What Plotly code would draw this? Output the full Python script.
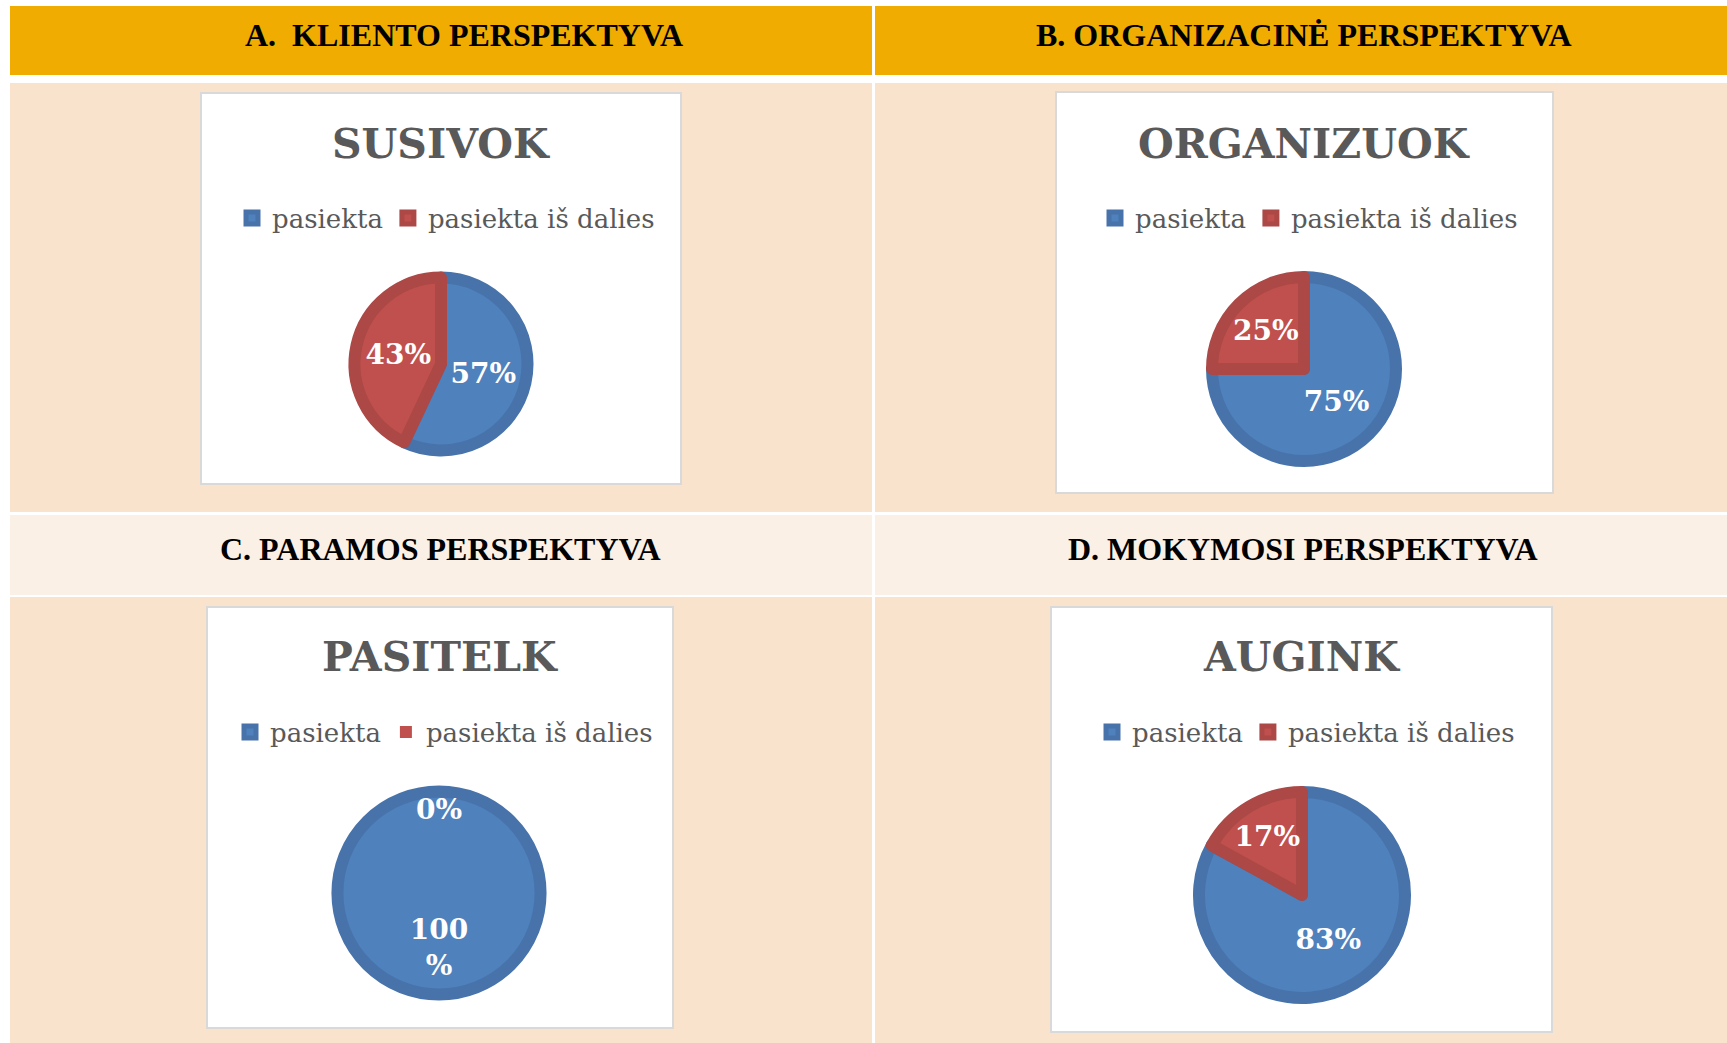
import plotly.graph_objects as go

W, H = 1727, 1043

# ---------------- data ----------------
labels = ["pasiekta", "pasiekta iš dalies"]
section_headers = ["A.  KLIENTO PERSPEKTYVA", "B. ORGANIZACINĖ PERSPEKTYVA",
                   "C. PARAMOS PERSPEKTYVA", "D. MOKYMOSI PERSPEKTYVA"]
chart_titles = ["SUSIVOK", "ORGANIZUOK", "PASITELK", "AUGINK"]
values_a = [57, 43]
values_b = [75, 25]
values_c = [100, 0]
values_d = [83, 17]
all_values = [values_a, values_b, values_c, values_d]

# ---------------- style ----------------
fill_colors = ["#4F81BD", "#C0504D"]
edge_colors = ["#4773AA", "#AC4845"]
HEADER_BG = "#F0AC00"
BODY_BG = "#FAE3CC"
SUBHEAD_BG = "#FBF0E6"
BOX_BORDER = "#D9D9D9"
TITLE_COLOR = "#595959"
SERIF = "DejaVu Serif"
HEAD_FONT = "Liberation Serif"
NB = "\u00a0"


def fx(x):
    return x / W


def fy(y):
    return 1 - y / H


shapes = []


def rect(x0, y0, x1, y1, fill, line_color=None, line_width=0):
    shapes.append(dict(type="rect", xref="paper", yref="paper",
                       x0=fx(x0), x1=fx(x1), y0=fy(y1), y1=fy(y0),
                       fillcolor=fill,
                       line=dict(color=line_color or fill, width=line_width),
                       layer="below"))


# table cells
cols = [(10, 872), (875, 1740)]
rows = [(6, 75, HEADER_BG), (83, 512, BODY_BG), (515, 595, SUBHEAD_BG), (597, 1050, BODY_BG)]
for (y0, y1, c) in rows:
    for (x0, x1) in cols:
        rect(x0, y0, x1, y1, c)

# chart boxes (white with light grey border)
boxes = [(201, 93, 681, 484), (1056, 92, 1553, 493), (207, 607, 673, 1028), (1051, 607, 1552, 1032)]
for (x0, y0, x1, y1) in boxes:
    rect(x0, y0, x1, y1, "white", BOX_BORDER, 2)

annotations = []
# section headers
header_pos = [(464, 35), (1304, 35), (440, 549), (1303, 549)]
for txt, (x, y) in zip(section_headers, header_pos):
    annotations.append(dict(text="<b>" + txt + "</b>", x=fx(x), y=fy(y), xref="paper", yref="paper",
                            xanchor="center", yanchor="middle", showarrow=False,
                            font=dict(family=HEAD_FONT, size=32, color="black")))

# chart titles
title_pos = [(441, 144), (1304, 144), (440, 657), (1301, 657)]
for txt, (x, y) in zip(chart_titles, title_pos):
    annotations.append(dict(text="<b>" + txt + "</b>", x=fx(x), y=fy(y), xref="paper", yref="paper",
                            xanchor="center", yanchor="middle", showarrow=False,
                            font=dict(family=SERIF, size=41, color=TITLE_COLOR)))

# pies: centre and visible radius
EDGE = 12      # stroke width of the lighter inner pie
INSET = 5      # inner pie radius = visible radius - INSET
pie_geom = [(441, 364, 91.5), (1304, 369, 97), (439, 893, 106.5), (1302, 895, 108)]
legend_pos = [(446, 218), (1309, 218), (444, 732), (1306, 732)]
legend_names = ["legend", "legend2", "legend3", "legend4"]


def dom(cx, cy, r):
    return dict(x=[fx(cx - r), fx(cx + r)], y=[fy(cy + r), fy(cy - r)])


fig = go.Figure()
layout_legends = {}
for i, (vals, (cx, cy, rv)) in enumerate(zip(all_values, pie_geom)):
    # darker base disc (gives the outer rim)
    fig.add_trace(go.Pie(
        labels=labels, values=vals, sort=False, direction="clockwise", rotation=0,
        domain=dom(cx, cy, rv),
        marker=dict(colors=edge_colors, line=dict(width=0)),
        textinfo="none", showlegend=False, hoverinfo="skip",
        legend=legend_names[i], legendgroup=f"grp{i}",
    ))
    texts = []
    for v in vals:
        s = f"{v}%"
        if v == 0:  # label of an empty slice sits just inside the rim
            s = NB + "<br>" + s
        elif len(s) > 3:  # wraps like the original label box, low in the disc
            s = NB + "<br>" + NB + "<br>" + NB + "<br>" + s[:-1] + "<br>%"
        texts.append(s)
    widths = [EDGE if v > 0 else 0 for v in vals]
    fig.add_trace(go.Pie(
        labels=labels, values=vals, sort=False, direction="clockwise", rotation=0,
        domain=dom(cx, cy, rv - INSET),
        marker=dict(colors=fill_colors, line=dict(color=edge_colors, width=widths)),
        text=texts, textinfo="text", textposition="inside",
        insidetextorientation="horizontal",
        textfont=dict(family=SERIF, size=28, color="white", weight="bold"),
        legend=legend_names[i], legendgroup=f"grp{i}", showlegend=True,
        hoverinfo="label+percent",
    ))
    lx, ly = legend_pos[i]
    layout_legends[legend_names[i]] = dict(
        orientation="h", x=fx(lx), y=fy(ly), xanchor="center", yanchor="middle",
        bgcolor="rgba(0,0,0,0)", font=dict(family=SERIF, size=26, color=TITLE_COLOR),
        traceorder="normal", itemclick=False, itemdoubleclick=False,
    )

fig.update_layout(
    width=W, height=H, autosize=False,
    margin=dict(l=0, r=0, t=0, b=0),
    paper_bgcolor="white", plot_bgcolor="white",
    shapes=shapes, annotations=annotations,
    uniformtext=dict(minsize=28, mode="show"),
    **layout_legends,
)

fig.write_html("out.html")
